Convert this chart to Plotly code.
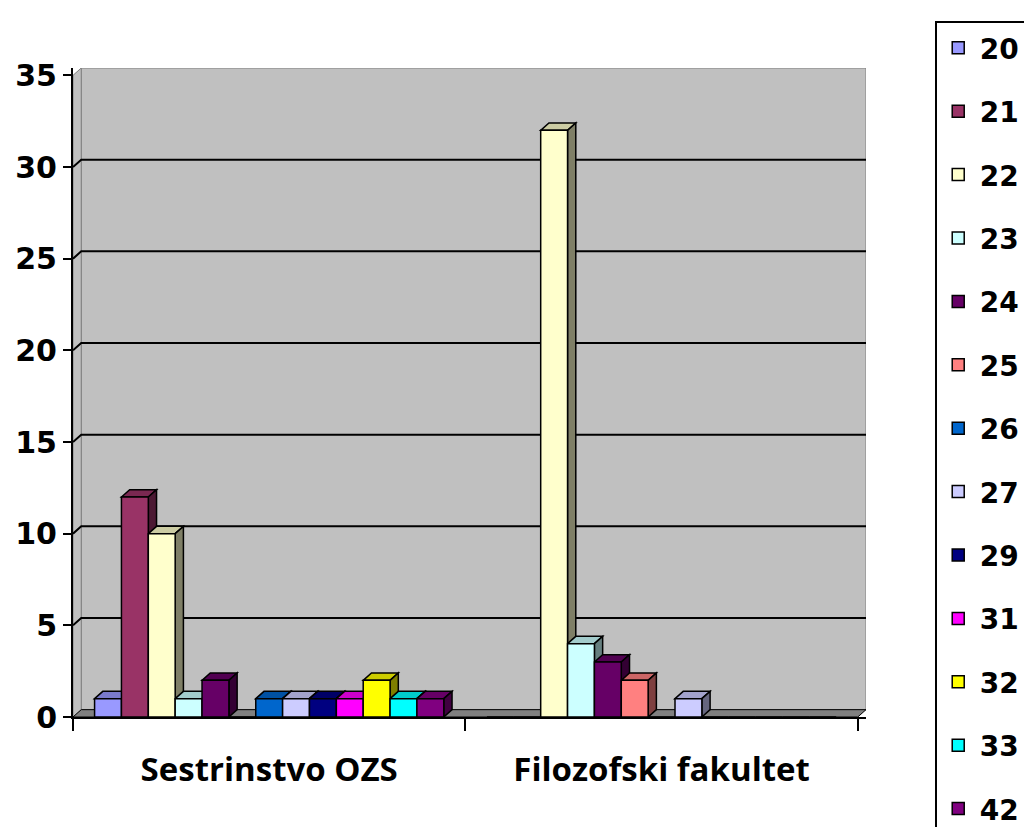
import plotly.graph_objects as go

categories = ["Sestrinstvo OZS", "Filozofski fakultet"]
series_names = ["20", "21", "22", "23", "24", "25", "26", "27", "29", "31", "32", "33", "42"]
sestrinstvo = [1, 12, 10, 1, 2, 0, 1, 1, 1, 1, 2, 1, 1]
filozofski = [0, 0, 32, 4, 3, 2, 0, 1, 0, 0, 0, 0, 0]
colors = ["#9999FF", "#993366", "#FFFFCC", "#CCFFFF", "#660066", "#FF8080", "#0066CC",
          "#CCCCFF", "#000080", "#FF00FF", "#FFFF00", "#00FFFF", "#800080"]
y_ticks = [0, 5, 10, 15, 20, 25, 30, 35]

values = [[sestrinstvo[k], filozofski[k]] for k in range(len(series_names))]

BARGAP = 0.11
DX = 0.021   # depth offset in category units
DY = 0.40    # depth offset in value units
YMAX = 35


def shade(hexcol, f):
    h = hexcol.lstrip("#")
    r, g, b = (int(h[i:i + 2], 16) for i in (0, 2, 4))
    return "rgb(%d,%d,%d)" % (r * f, g * f, b * f)


fig = go.Figure()
for k, name in enumerate(series_names):
    fig.add_trace(go.Bar(
        x=categories, y=values[k], name=name, legendgroup=name,
        marker=dict(color=colors[k], line=dict(color="black", width=1.5)),
    ))

shapes = []
x_left, x_right = -0.5, len(categories) - 0.5
# back wall
shapes.append(dict(type="rect", xref="x", yref="y", x0=x_left + DX, x1=x_right + DX,
                   y0=DY, y1=YMAX + DY, fillcolor="#C0C0C0",
                   line=dict(color="#808080", width=1), layer="below"))
# left wall
shapes.append(dict(type="path", xref="x", yref="y",
                   path=f"M{x_left},0 L{x_left + DX},{DY} L{x_left + DX},{YMAX + DY} L{x_left},{YMAX} Z",
                   fillcolor="#C0C0C0", line=dict(color="#808080", width=1), layer="below"))
# gridlines on the back wall
for v in y_ticks[1:-1]:
    shapes.append(dict(type="path", xref="x", yref="y",
                       path=f"M{x_left},{v} L{x_left + DX},{v + DY} L{x_right + DX},{v + DY}",
                       line=dict(color="black", width=2), layer="below"))
# floor
shapes.append(dict(type="path", xref="x", yref="y",
                   path=f"M{x_left},0 L{x_right},0 L{x_right + DX},{DY} L{x_left + DX},{DY} Z",
                   fillcolor="#808080", line=dict(color="black", width=1), layer="below"))

# 3D top and side faces of bars
n = len(series_names)
w = (1 - BARGAP) / n
for i in range(len(categories)):
    for k in range(n):
        v = values[k][i]
        if v <= 0:
            continue
        x0 = i - (1 - BARGAP) / 2 + k * w
        x1 = x0 + w
        shapes.append(dict(type="path", xref="x", yref="y",
                           path=f"M{x0},{v} L{x0 + DX},{v + DY} L{x1 + DX},{v + DY} L{x1},{v} Z",
                           fillcolor=shade(colors[k], 0.8), line=dict(color="black", width=1.5),
                           layer="below"))
        shapes.append(dict(type="path", xref="x", yref="y",
                           path=f"M{x1},{v} L{x1 + DX},{v + DY} L{x1 + DX},{DY} L{x1},0 Z",
                           fillcolor=shade(colors[k], 0.5), line=dict(color="black", width=1.5),
                           layer="below"))

fig.update_layout(
    width=1024, height=819,
    paper_bgcolor="white", plot_bgcolor="white",
    barmode="group", bargap=BARGAP, bargroupgap=0,
    margin=dict(l=65, r=166, t=60, b=110, autoexpand=False),
    shapes=shapes,
    legend=dict(
        xref="container", yref="container",
        x=0.905, y=0.984, xanchor="left", yanchor="top",
        bordercolor="black", borderwidth=2, bgcolor="white",
        font=dict(family="DejaVu Sans", size=28, color="black", weight="bold"),
        tracegroupgap=24, traceorder="grouped", maxheight=1000,
        itemwidth=33,
    ),
    xaxis=dict(
        type="category", range=[x_left, x_right + DX], automargin=False,
        showline=True, linecolor="black", linewidth=2,
        ticks="outside", tickson="boundaries", ticklen=12, tickcolor="black", tickwidth=2,
        ticklabelstandoff=22,
        tickfont=dict(family="Open Sans", size=33, color="black", weight="bold"),
        showgrid=False,
    ),
    yaxis=dict(
        range=[0, YMAX + DY], tickvals=y_ticks, automargin=False,
        showline=True, linecolor="black", linewidth=2,
        ticks="outside", ticklen=8, tickcolor="black", tickwidth=2,
        tickfont=dict(family="DejaVu Sans", size=30, color="black", weight="bold"),
        showgrid=False, zeroline=False,
    ),
)

fig.write_html("out.html")
